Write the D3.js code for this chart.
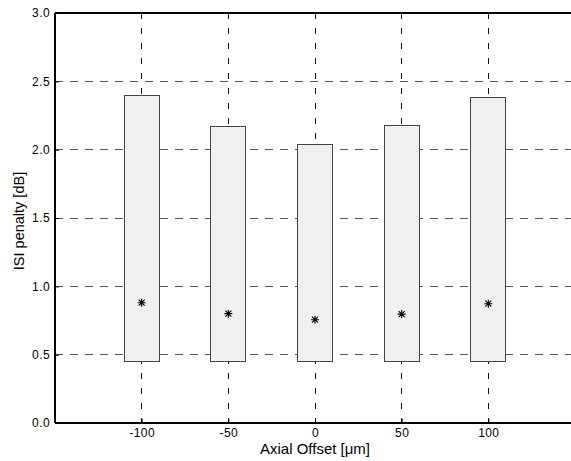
<!DOCTYPE html>
<html>
<head>
<meta charset="utf-8">
<script src="https://cdn.jsdelivr.net/npm/d3@7"></script>
<style>
html,body{margin:0;padding:0;background:#fff;}
svg{display:block;font-family:"Liberation Sans",Arial,sans-serif;}
</style>
</head>
<body>
<svg id="chart" width="571" height="461"></svg>
<script>
const offsets = [-100, -50, 0, 50, 100];
const barLow = [0.45, 0.45, 0.45, 0.45, 0.45];
const barHigh = [2.40, 2.17, 2.04, 2.18, 2.38];
const meanPenalty = [0.88, 0.80, 0.756, 0.797, 0.873];
const xTicks = [-100, -50, 0, 50, 100];
const yTicks = [0, 0.5, 1.0, 1.5, 2.0, 2.5, 3.0];

const svg = d3.select("#chart");
const L = 55, T = 13, B = 423, R = 575;
const x = d3.scaleLinear().domain([-150, 150]).range([L, R]);
const y = d3.scaleLinear().domain([0, 3]).range([B, T]);

const gridColor = "#555";
svg.append("g").selectAll("line").data(yTicks.filter(v => v > 0 && v < 3)).join("line")
  .attr("x1", L).attr("x2", R).attr("y1", d => y(d)).attr("y2", d => y(d))
  .attr("stroke", gridColor).attr("stroke-width", 1).attr("stroke-dasharray", "8,7")
  .attr("shape-rendering", "crispEdges");
svg.append("g").selectAll("line").data(xTicks).join("line")
  .attr("x1", d => x(d)).attr("x2", d => x(d)).attr("y1", T).attr("y2", B)
  .attr("stroke", "#111").attr("stroke-width", 1).attr("stroke-dasharray", "6,9")
  .attr("shape-rendering", "crispEdges");

const bw = 35;
svg.append("g").selectAll("rect").data(offsets).join("rect")
  .attr("x", (d) => x(d) - bw / 2)
  .attr("width", bw)
  .attr("y", (d, i) => y(barHigh[i]))
  .attr("height", (d, i) => y(barLow[i]) - y(barHigh[i]))
  .attr("fill", "#f0f0f0").attr("stroke", "#444").attr("stroke-width", 1)
  .attr("shape-rendering", "crispEdges");

const r = 4, rd = 3;
const starPath = `M${-r},0L${r},0M0,${-r}L0,${r}M${-rd},${-rd}L${rd},${rd}M${-rd},${rd}L${rd},${-rd}`;
svg.append("g").selectAll("path").data(offsets).join("path")
  .attr("d", starPath)
  .attr("transform", (d, i) => `translate(${x(d)},${y(meanPenalty[i])})`)
  .attr("fill", "none").attr("stroke", "#000").attr("stroke-width", 1.1);

const frame = svg.append("g").attr("stroke", "#000").attr("stroke-width", 1.2).attr("shape-rendering", "crispEdges");
frame.append("line").attr("x1", L).attr("x2", R).attr("y1", B).attr("y2", B);
frame.append("line").attr("x1", L).attr("x2", R).attr("y1", T).attr("y2", T);
frame.append("line").attr("x1", L).attr("x2", L).attr("y1", T).attr("y2", B);

const fmtX = d => String(d);
const xAxis = d3.axisBottom(x).tickValues(xTicks).tickSizeInner(-4).tickSizeOuter(0).tickPadding(5).tickFormat(fmtX);
const gx = svg.append("g").attr("transform", `translate(0,${B})`).call(xAxis);
gx.select(".domain").remove();
gx.selectAll("text").attr("font-size", 12).attr("letter-spacing", 0.4).attr("fill", "#000").attr("font-family", "Liberation Sans, Arial, sans-serif");

const yAxis = d3.axisLeft(y).tickValues(yTicks).tickSizeInner(-4).tickSizeOuter(0).tickPadding(5).tickFormat(d3.format(".1f"));
const gy = svg.append("g").attr("transform", `translate(${L},0)`).call(yAxis);
gy.select(".domain").remove();
gy.selectAll("text").attr("font-size", 12).attr("letter-spacing", 0.4).attr("fill", "#000").attr("font-family", "Liberation Sans, Arial, sans-serif");

svg.append("text").attr("x", x(0)).attr("y", 454).attr("text-anchor", "middle")
  .attr("font-size", 15).attr("fill", "#000").text("Axial Offset [μm]");
svg.append("text").attr("transform", `translate(24,${(T + B) / 2 + 3}) rotate(-90)`)
  .attr("text-anchor", "middle").attr("font-size", 14.5).attr("fill", "#000").text("ISI penalty [dB]");
</script>
</body>
</html>
